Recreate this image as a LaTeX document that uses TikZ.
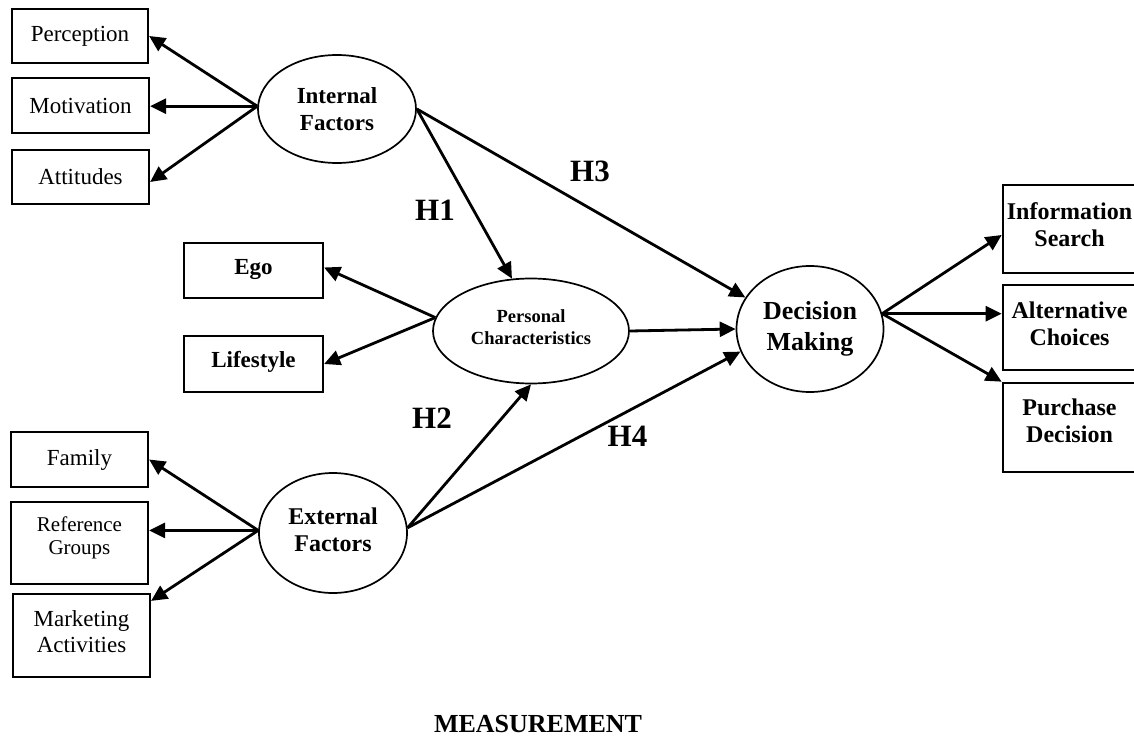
\documentclass[tikz,border=0pt]{standalone}
\usepackage{fontspec}
\setmainfont{Liberation Serif}
\usetikzlibrary{shapes.geometric,arrows.meta}
\tikzset{
  box/.style={draw, rectangle, line width=2.2pt, inner sep=0pt, align=center,
    font=\fontsize{23}{26}\selectfont},
  bbox/.style={box, line width=2.6pt, font=\bfseries\fontsize{24}{27}\selectfont},
  oval/.style={draw, ellipse, line width=1.7pt, inner sep=0pt, align=center},
  arr/.style={line width=2.8pt, -{Triangle[length=16pt,width=15pt]}},
  hyp/.style={inner sep=0pt, font=\bfseries\fontsize{31}{31}\selectfont},
}
\begin{document}
\begin{tikzpicture}[x=1pt,y=-1pt]
\useasboundingbox (0,0) rectangle (1134,738);
% left boxes
\node[box, minimum width=136pt, minimum height=54pt] (perc) at (80,36) {Perception};
\node[box, minimum width=137pt, minimum height=55pt] (mot) at (80.5,105.5) {Motivation};
\node[box, minimum width=137pt, minimum height=54pt] (att) at (80.5,177) {Attitudes};
\node[box, minimum width=139pt, minimum height=55pt, font=\bfseries\fontsize{23}{26}\selectfont, text depth=7pt] (ego) at (253.5,270.5) {Ego};
\node[box, minimum width=139pt, minimum height=56pt, font=\bfseries\fontsize{23}{26}\selectfont, text depth=10pt] (life) at (253.5,364) {Lifestyle};
\node[box, minimum width=137pt, minimum height=55pt] (fam) at (79.5,459.5) {Family};
\node[box, minimum width=137pt, minimum height=82pt, font=\fontsize{21}{23}\selectfont, text depth=14pt] (rg) at (79.5,543) {Reference\\Groups};
\node[box, minimum width=137pt, minimum height=83pt, text depth=8pt] (ma) at (81.5,635.5) {Marketing\\Activities};
% right boxes
\node[bbox, minimum width=133pt, minimum height=88pt, text depth=9pt] (is) at (1069.5,229) {Information\\Search};
\node[bbox, minimum width=133pt, minimum height=85pt, text depth=8pt] (ac) at (1069.5,327.5) {Alternative\\Choices};
\node[bbox, minimum width=133pt, minimum height=89pt, text depth=14pt] (pd) at (1069.5,427.5) {Purchase\\Decision};
% ellipses
\node[oval, minimum width=158pt, minimum height=108pt, font=\bfseries\fontsize{23}{27}\selectfont] (if) at (337,109) {Internal\\Factors};
\node[oval, minimum width=196pt, minimum height=105pt, text depth=8pt, font=\bfseries\fontsize{18.5}{22}\selectfont] (pc) at (531,331) {Personal\\Characteristics};
\node[oval, minimum width=148pt, minimum height=120pt, text depth=6pt, font=\bfseries\fontsize{24}{27}\selectfont] (ef) at (333,533) {External\\Factors};
\node[oval, minimum width=147pt, minimum height=126pt, font=\bfseries\fontsize{26}{31}\selectfont] (dm) at (810,329) {Decision\\Making};
% convergence points
\coordinate (ifl) at (if.178);
\coordinate (pcl) at (pc.172);
\coordinate (efl) at (ef.178);
\coordinate (efr) at (ef.4);
\coordinate (dmr) at (dm.12);
% arrows
\draw[arr] (ifl) -- (perc.east);
\draw[arr] (ifl) -- (ifl -| mot.east);
\draw[arr] (ifl) -- ([yshift=-5pt]att.east);
\draw[arr] (pcl) -- ([yshift=3pt]ego.east);
\draw[arr] (pcl) -- (life.east);
\draw[arr] (efl) -- (fam.east);
\draw[arr] (efl) -- (efl -| rg.east);
\draw[arr] (efl) -- ([yshift=-8pt]ma.north east);
\draw[arr] (if.east) -- (pc.110);
\draw[arr] (if.east) -- (dm.154);
\draw[arr] (pc.east) -- (dm.west);
\draw[arr] (efr) -- (pc.south);
\draw[arr] (efr) -- (dm.198);
\draw[arr] (dmr) -- ([yshift=-6pt]is.west);
\draw[arr] (dmr) -- (dmr -| ac.west);
\draw[arr] (dmr) -- (pd.north west);
% hypothesis labels
\node[hyp] (h1) at (435,210) {H1};
\node[hyp] (h3) at (590,171.5) {H3};
\node[hyp] (h2) at (432,418) {H2};
\node[hyp] (h4) at (627.5,436) {H4};
\node[inner sep=0pt, font=\bfseries\fontsize{26}{26}\selectfont] (meas) at (538,724) {MEASUREMENT};
\end{tikzpicture}
\end{document}
